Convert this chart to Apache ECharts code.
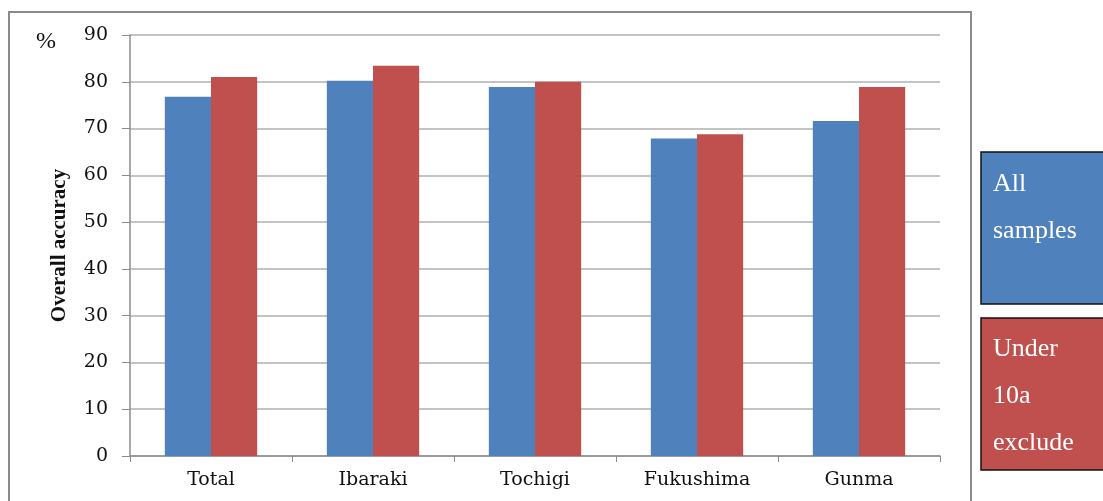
<!DOCTYPE html>
<html>
<head>
<meta charset="utf-8">
<script src="https://cdn.jsdelivr.net/npm/echarts@6/dist/echarts.min.js"></script>
<style>
  html, body { margin: 0; padding: 0; background: #fff; }
  #chart { width: 1103px; height: 501px; }
</style>
</head>
<body>
<div id="chart"></div>
<script>
// data
var regions = ["Total", "Ibaraki", "Tochigi", "Fukushima", "Gunma"];
var allSamples = [76.8, 80.2, 78.9, 67.9, 71.6];
var under10aExclude = [81, 83.4, 80, 68.8, 78.9];
var yTicks = [0, 10, 20, 30, 40, 50, 60, 70, 80, 90];

var serif = "'Liberation Serif', 'DejaVu Serif', serif";
var wideSerif = "'DejaVu Serif', 'Liberation Serif', serif";
var colors = ["#4F81BD", "#C0504D"];

var chart = echarts.init(document.getElementById("chart"));

var option = {
  animation: false,
  color: colors,
  textStyle: { fontFamily: serif },
  grid: { left: 130, right: 163, top: 35, bottom: 45 },
  xAxis: {
    type: "category",
    data: regions,
    axisLine: { lineStyle: { color: "#8c8c8c", width: 1.5 } },
    axisTick: { show: true, length: 6, lineStyle: { color: "#8c8c8c" } },
    axisLabel: { color: "#111", fontSize: 19, fontFamily: wideSerif, margin: 15 }
  },
  yAxis: {
    type: "value",
    min: yTicks[0],
    max: yTicks[yTicks.length - 1],
    interval: 10,
    axisLine: { show: true, lineStyle: { color: "#8c8c8c", width: 1.5 } },
    axisTick: { show: true, length: 8, lineStyle: { color: "#8c8c8c" } },
    axisLabel: { color: "#111", fontSize: 19, fontFamily: wideSerif, margin: 22 },
    splitLine: { lineStyle: { color: "#b0b0b0", width: 1.5 } },
    name: "Overall accuracy",
    nameLocation: "middle",
    nameGap: 60,
    nameRotate: 90,
    nameTextStyle: { color: "#111", fontSize: 21, fontWeight: "bold", fontFamily: serif }
  },
  series: [
    {
      name: "All samples",
      type: "bar",
      data: allSamples,
      barWidth: "28.5%",
      barGap: "0%"
    },
    {
      name: "Under 10a exclude",
      type: "bar",
      data: under10aExclude,
      barWidth: "28.5%",
      barGap: "0%"
    }
  ],
  graphic: [
    // outer frame
    {
      type: "rect",
      shape: { x: 9, y: 12, width: 962, height: 500 },
      style: { fill: "none", stroke: "#8a8a8a", lineWidth: 2 },
      silent: true
    },
    {
      type: "text",
      left: 36, top: 30,
      style: { text: "%", font: "24px " + serif, fill: "#111" }
    },
    // legend boxes
    {
      type: "rect",
      shape: { x: 981, y: 152, width: 130, height: 152 },
      style: { fill: colors[0], stroke: "#111", lineWidth: 1.5 }
    },
    {
      type: "text",
      left: 993, top: 161,
      style: { text: "All\nsamples", font: "26px " + serif, fill: "#fff", lineHeight: 47 }
    },
    {
      type: "rect",
      shape: { x: 981, y: 318, width: 130, height: 152 },
      style: { fill: colors[1], stroke: "#111", lineWidth: 1.5 }
    },
    {
      type: "text",
      left: 993, top: 326,
      style: { text: "Under\n10a\nexclude", font: "26px " + serif, fill: "#fff", lineHeight: 47 }
    }
  ]
};

chart.setOption(option);
</script>
</body>
</html>
